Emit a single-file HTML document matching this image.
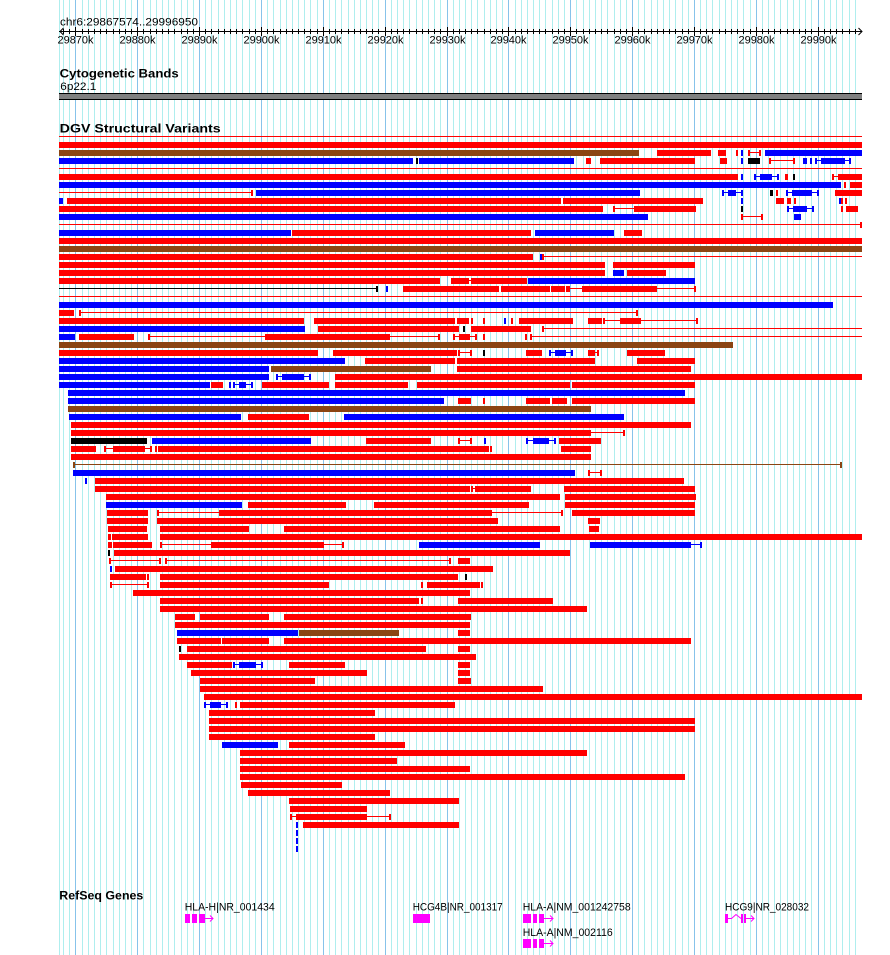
<!DOCTYPE html>
<html><head><meta charset="utf-8"><style>
html,body{margin:0;padding:0;background:#fff}
svg{display:block}
.r{fill:#f00}.b{fill:#00f}.n{fill:#8b4513}.k{fill:#000}.m{fill:#f0f}
text{font-family:"Liberation Sans",sans-serif;font-size:11px;fill:#000}
.t{font-weight:bold;font-size:12px}
</style></head><body>
<svg width="890" height="955" viewBox="0 0 890 955" xmlns="http://www.w3.org/2000/svg">
<defs>
<path id="mn" d="M63.5 0V955M69.5 0V955M82.5 0V955M88.5 0V955M94.5 0V955M100.5 0V955M106.5 0V955M113.5 0V955M119.5 0V955M125.5 0V955M131.5 0V955M143.5 0V955M150.5 0V955M156.5 0V955M162.5 0V955M168.5 0V955M174.5 0V955M181.5 0V955M187.5 0V955M193.5 0V955M205.5 0V955M211.5 0V955M218.5 0V955M224.5 0V955M230.5 0V955M236.5 0V955M242.5 0V955M249.5 0V955M255.5 0V955M267.5 0V955M273.5 0V955M280.5 0V955M286.5 0V955M292.5 0V955M298.5 0V955M304.5 0V955M310.5 0V955M317.5 0V955M329.5 0V955M335.5 0V955M341.5 0V955M348.5 0V955M354.5 0V955M360.5 0V955M366.5 0V955M372.5 0V955M378.5 0V955M391.5 0V955M397.5 0V955M403.5 0V955M409.5 0V955M416.5 0V955M422.5 0V955M428.5 0V955M434.5 0V955M440.5 0V955M453.5 0V955M459.5 0V955M465.5 0V955M471.5 0V955M477.5 0V955M484.5 0V955M490.5 0V955M496.5 0V955M502.5 0V955M515.5 0V955M521.5 0V955M527.5 0V955M533.5 0V955M539.5 0V955M545.5 0V955M552.5 0V955M558.5 0V955M564.5 0V955M576.5 0V955M583.5 0V955M589.5 0V955M595.5 0V955M601.5 0V955M607.5 0V955M614.5 0V955M620.5 0V955M626.5 0V955M638.5 0V955M644.5 0V955M651.5 0V955M657.5 0V955M663.5 0V955M669.5 0V955M675.5 0V955M682.5 0V955M688.5 0V955M700.5 0V955M706.5 0V955M712.5 0V955M719.5 0V955M725.5 0V955M731.5 0V955M737.5 0V955M743.5 0V955M750.5 0V955M762.5 0V955M768.5 0V955M774.5 0V955M780.5 0V955M787.5 0V955M793.5 0V955M799.5 0V955M805.5 0V955M811.5 0V955M824.5 0V955M830.5 0V955M836.5 0V955M842.5 0V955M849.5 0V955M855.5 0V955"/>
<path id="mj" d="M75.5 0V955M137.5 0V955M199.5 0V955M261.5 0V955M323.5 0V955M385.5 0V955M447.5 0V955M508.5 0V955M570.5 0V955M632.5 0V955M694.5 0V955M756.5 0V955M818.5 0V955"/>
<clipPath id="c1"><rect x="0" y="29" width="890" height="5"/></clipPath>
<clipPath id="c2"><rect x="0" y="27" width="890" height="9"/></clipPath>
</defs>
<rect x="0" y="0" width="890" height="955" fill="#fff"/>
<!-- grid -->
<path d="M59.5 0V955" stroke="#afeeee" stroke-width="1"/>
<use href="#mn" stroke="#afeeee" stroke-width="1"/>
<use href="#mj" stroke="#87c3ea" stroke-width="1"/>
<!-- ruler -->
<text x="60" y="25.5" textLength="138" lengthAdjust="spacingAndGlyphs">chr6:29867574..29996950</text>
<rect x="59" y="31" width="803" height="1" fill="#000"/>
<use href="#mn" stroke="#000" stroke-width="1" clip-path="url(#c1)"/>
<use href="#mj" stroke="#000" stroke-width="1" clip-path="url(#c2)"/>
<polyline points="63.5,28 60,31.5 63.5,35" fill="none" stroke="#000" stroke-width="1"/>
<polyline points="858.5,28 862,31.5 858.5,35" fill="none" stroke="#000" stroke-width="1"/>
<g text-anchor="middle">
<text x="75.5" y="43.5" textLength="36" lengthAdjust="spacingAndGlyphs">29870k</text>
<text x="137.5" y="43.5" textLength="36" lengthAdjust="spacingAndGlyphs">29880k</text>
<text x="199.5" y="43.5" textLength="36" lengthAdjust="spacingAndGlyphs">29890k</text>
<text x="261.5" y="43.5" textLength="36" lengthAdjust="spacingAndGlyphs">29900k</text>
<text x="323.5" y="43.5" textLength="36" lengthAdjust="spacingAndGlyphs">29910k</text>
<text x="385.5" y="43.5" textLength="36" lengthAdjust="spacingAndGlyphs">29920k</text>
<text x="447.5" y="43.5" textLength="36" lengthAdjust="spacingAndGlyphs">29930k</text>
<text x="508.5" y="43.5" textLength="36" lengthAdjust="spacingAndGlyphs">29940k</text>
<text x="570.5" y="43.5" textLength="36" lengthAdjust="spacingAndGlyphs">29950k</text>
<text x="632.5" y="43.5" textLength="36" lengthAdjust="spacingAndGlyphs">29960k</text>
<text x="694.5" y="43.5" textLength="36" lengthAdjust="spacingAndGlyphs">29970k</text>
<text x="756.5" y="43.5" textLength="36" lengthAdjust="spacingAndGlyphs">29980k</text>
<text x="818.5" y="43.5" textLength="36" lengthAdjust="spacingAndGlyphs">29990k</text>
</g>
<!-- cytoband -->
<text class="t" x="59.7" y="77.3" textLength="119" lengthAdjust="spacingAndGlyphs">Cytogenetic Bands</text>
<text x="60.3" y="90" textLength="36" lengthAdjust="spacingAndGlyphs">6p22.1</text>
<rect x="59" y="93" width="803" height="7" fill="#000"/>
<rect x="59" y="94" width="803" height="5" fill="#808080"/>
<!-- DGV -->
<text class="t" x="59.7" y="132.3" textLength="161" lengthAdjust="spacingAndGlyphs">DGV Structural Variants</text>

<g transform="translate(0,134)"><rect class="r" x="59" y="2" width="803" height="1"/></g>
<g transform="translate(0,142)"><rect class="r" x="59" width="803" height="6"/></g>
<g transform="translate(0,150)"><rect class="n" x="59" width="580" height="6"/><rect class="r" x="657" width="54" height="6"/><rect class="r" x="718" width="8" height="6"/><rect class="r" x="736" width="2" height="6"/><rect class="b" x="741" width="2" height="6"/><rect class="r" x="748" width="2" height="6"/><rect class="r" x="750" y="2" width="10" height="1"/><rect class="r" x="759" width="2" height="6"/><rect class="b" x="765" width="97" height="6"/></g>
<g transform="translate(0,158)"><rect class="b" x="59" width="354" height="6"/><rect class="k" x="416" width="2" height="6"/><rect class="b" x="419" width="155" height="6"/><rect class="r" x="586" width="5" height="6"/><rect class="r" x="600" width="95" height="6"/><rect class="r" x="720" width="7" height="6"/><rect class="b" x="741" width="2" height="6"/><rect class="k" x="748" width="12" height="6"/><rect class="r" x="769" width="2" height="6"/><rect class="r" x="769" y="2" width="26" height="1"/><rect class="r" x="793" width="2" height="6"/><rect class="b" x="803" width="4" height="6"/><rect class="b" x="810" width="2" height="6"/><rect class="b" x="815" width="2" height="6"/><rect class="b" x="815" y="2" width="36" height="1"/><rect class="b" x="821" width="24" height="6"/><rect class="b" x="849" width="2" height="6"/></g>
<g transform="translate(0,166)"><rect class="r" x="59" y="2" width="803" height="1"/></g>
<g transform="translate(0,174)"><rect class="r" x="59" width="679" height="6"/><rect class="b" x="741" width="2" height="6"/><rect class="b" x="754" width="2" height="6"/><rect class="b" x="754" y="2" width="25" height="1"/><rect class="b" x="760" width="12" height="6"/><rect class="b" x="777" width="2" height="6"/><rect class="r" x="785" width="3" height="6"/><rect class="k" x="793" width="2" height="6"/><rect class="r" x="832" width="2" height="6"/><rect class="r" x="832" y="2" width="6" height="1"/><rect class="r" x="838" width="24" height="6"/></g>
<g transform="translate(0,182)"><rect class="b" x="59" width="782" height="6"/><rect class="r" x="844" width="2" height="6"/><rect class="r" x="850" width="12" height="6"/></g>
<g transform="translate(0,190)"><rect class="r" x="59" y="2" width="192" height="1"/><rect class="r" x="251" width="2" height="6"/><rect class="b" x="256" width="384" height="6"/><rect class="b" x="722" width="2" height="6"/><rect class="b" x="722" y="2" width="21" height="1"/><rect class="b" x="728" width="8" height="6"/><rect class="b" x="741" width="2" height="6"/><rect class="k" x="770" width="3" height="6"/><rect class="r" x="776" width="2" height="6"/><rect class="b" x="786" width="2" height="6"/><rect class="b" x="786" y="2" width="33" height="1"/><rect class="b" x="792" width="20" height="6"/><rect class="b" x="817" width="2" height="6"/><rect class="r" x="835" width="27" height="6"/></g>
<g transform="translate(0,198)"><rect class="b" x="59" width="4" height="6"/><rect class="r" x="67" width="494" height="6"/><rect class="r" x="563" width="140" height="6"/><rect class="b" x="741" width="2" height="6"/><rect class="r" x="776" width="8" height="6"/><rect class="r" x="787" width="4" height="6"/><rect class="r" x="794" width="2" height="6"/><rect class="b" x="839" width="2" height="6"/><rect class="r" x="841" width="2" height="6"/><rect class="r" x="845" width="2" height="6"/></g>
<g transform="translate(0,206)"><rect class="r" x="59" width="544" height="6"/><rect class="r" x="613" width="2" height="6"/><rect class="r" x="613" y="2" width="21" height="1"/><rect class="r" x="634" width="62" height="6"/><rect class="k" x="741" width="2" height="6"/><rect class="b" x="787" width="2" height="6"/><rect class="b" x="787" y="2" width="27" height="1"/><rect class="b" x="793" width="14" height="6"/><rect class="b" x="812" width="2" height="6"/><rect class="r" x="841" width="2" height="6"/><rect class="r" x="846" width="12" height="6"/></g>
<g transform="translate(0,214)"><rect class="b" x="59" width="589" height="6"/><rect class="r" x="741" width="2" height="6"/><rect class="r" x="741" y="2" width="22" height="1"/><rect class="r" x="761" width="2" height="6"/><rect class="b" x="794" width="7" height="6"/></g>
<g transform="translate(0,222)"><rect class="r" x="59" y="2" width="803" height="1"/><rect class="r" x="860" width="2" height="6"/></g>
<g transform="translate(0,230)"><rect class="b" x="59" width="232" height="6"/><rect class="r" x="292" width="239" height="6"/><rect class="b" x="535" width="79" height="6"/><rect class="r" x="624" width="18" height="6"/></g>
<g transform="translate(0,238)"><rect class="r" x="59" width="803" height="6"/></g>
<g transform="translate(0,246)"><rect class="n" x="59" width="803" height="6"/></g>
<g transform="translate(0,254)"><rect class="r" x="59" width="474" height="6"/><rect class="b" x="540" width="2" height="6"/><rect class="r" x="542" width="2" height="6"/><rect class="r" x="544" y="2" width="318" height="1"/></g>
<g transform="translate(0,262)"><rect class="r" x="59" width="546" height="6"/><rect class="r" x="613" width="82" height="6"/></g>
<g transform="translate(0,270)"><rect class="r" x="59" width="546" height="6"/><rect class="b" x="613" width="11" height="6"/><rect class="r" x="627" width="39" height="6"/></g>
<g transform="translate(0,278)"><rect class="r" x="59" width="381" height="6"/><rect class="r" x="451" width="18" height="6"/><rect class="r" x="469" y="2" width="2" height="1"/><rect class="r" x="471" width="56" height="6"/><rect class="b" x="528" width="167" height="6"/></g>
<g transform="translate(0,286)"><rect class="k" x="59" y="2" width="317" height="1"/><rect class="k" x="376" width="2" height="6"/><rect class="b" x="386" width="2" height="6"/><rect class="r" x="403" width="96" height="6"/><rect class="r" x="501" width="49" height="6"/><rect class="r" x="551" width="14" height="6"/><rect class="r" x="566" width="4" height="6"/><rect class="r" x="570" y="2" width="12" height="1"/><rect class="r" x="582" width="75" height="6"/><rect class="r" x="657" y="2" width="38" height="1"/><rect class="r" x="694" width="2" height="6"/></g>
<g transform="translate(0,294)"><rect class="r" x="59" y="2" width="803" height="1"/></g>
<g transform="translate(0,302)"><rect class="b" x="59" width="774" height="6"/></g>
<g transform="translate(0,310)"><rect class="r" x="59" width="15" height="6"/><rect class="r" x="79" width="2" height="6"/><rect class="r" x="79" y="2" width="558" height="1"/><rect class="r" x="636" width="2" height="6"/></g>
<g transform="translate(0,318)"><rect class="r" x="59" width="245" height="6"/><rect class="r" x="314" width="141" height="6"/><rect class="r" x="457" width="12" height="6"/><rect class="r" x="471" width="2" height="6"/><rect class="r" x="483" width="2" height="6"/><rect class="b" x="504" width="2" height="6"/><rect class="r" x="511" width="2" height="6"/><rect class="r" x="519" width="54" height="6"/><rect class="r" x="588" width="14" height="6"/><rect class="r" x="603" width="2" height="6"/><rect class="r" x="603" y="2" width="17" height="1"/><rect class="r" x="620" width="21" height="6"/><rect class="r" x="641" y="2" width="56" height="1"/><rect class="r" x="696" width="2" height="6"/></g>
<g transform="translate(0,326)"><rect class="b" x="59" width="246" height="6"/><rect class="r" x="318" width="141" height="6"/><rect class="k" x="463" width="2" height="6"/><rect class="r" x="471" width="60" height="6"/><rect class="r" x="542" width="2" height="6"/><rect class="r" x="542" y="2" width="320" height="1"/></g>
<g transform="translate(0,334)"><rect class="b" x="59" width="16" height="6"/><rect class="r" x="79" width="55" height="6"/><rect class="r" x="148" width="2" height="6"/><rect class="r" x="148" y="2" width="117" height="1"/><rect class="r" x="265" width="125" height="6"/><rect class="r" x="390" y="2" width="50" height="1"/><rect class="r" x="438" width="2" height="6"/><rect class="r" x="453" width="2" height="6"/><rect class="r" x="453" y="2" width="6" height="1"/><rect class="r" x="459" width="11" height="6"/><rect class="r" x="470" y="2" width="5" height="1"/><rect class="r" x="475" width="2" height="6"/><rect class="r" x="483" width="2" height="6"/><rect class="r" x="525" width="2" height="6"/><rect class="r" x="530" width="2" height="6"/><rect class="r" x="530" y="2" width="332" height="1"/></g>
<g transform="translate(0,342)"><rect class="n" x="59" width="674" height="6"/></g>
<g transform="translate(0,350)"><rect class="r" x="59" width="259" height="6"/><rect class="r" x="333" width="124" height="6"/><rect class="r" x="458" width="2" height="6"/><rect class="r" x="458" y="2" width="12" height="1"/><rect class="r" x="470" width="2" height="6"/><rect class="k" x="483" width="2" height="6"/><rect class="r" x="526" width="16" height="6"/><rect class="b" x="549" width="2" height="6"/><rect class="b" x="549" y="2" width="24" height="1"/><rect class="b" x="555" width="11" height="6"/><rect class="b" x="571" width="2" height="6"/><rect class="r" x="588" width="7" height="6"/><rect class="r" x="595" y="2" width="3" height="1"/><rect class="r" x="597" width="2" height="6"/><rect class="r" x="627" width="38" height="6"/></g>
<g transform="translate(0,358)"><rect class="b" x="59" width="286" height="6"/><rect class="r" x="365" width="90" height="6"/><rect class="r" x="457" width="138" height="6"/><rect class="r" x="637" width="58" height="6"/></g>
<g transform="translate(0,366)"><rect class="b" x="59" width="210" height="6"/><rect class="n" x="271" width="160" height="6"/><rect class="r" x="457" width="234" height="6"/></g>
<g transform="translate(0,374)"><rect class="b" x="59" width="210" height="6"/><rect class="b" x="276" width="2" height="6"/><rect class="b" x="276" y="2" width="35" height="1"/><rect class="b" x="282" width="22" height="6"/><rect class="b" x="309" width="2" height="6"/><rect class="r" x="335" width="527" height="6"/></g>
<g transform="translate(0,382)"><rect class="b" x="59" width="151" height="6"/><rect class="r" x="211" width="12" height="6"/><rect class="b" x="229" width="2" height="6"/><rect class="b" x="233" width="2" height="6"/><rect class="b" x="233" y="2" width="20" height="1"/><rect class="b" x="239" width="7" height="6"/><rect class="b" x="251" width="2" height="6"/><rect class="r" x="262" width="67" height="6"/><rect class="r" x="335" width="73" height="6"/><rect class="r" x="417" width="153" height="6"/><rect class="r" x="572" width="123" height="6"/></g>
<g transform="translate(0,390)"><rect class="b" x="68" width="617" height="6"/></g>
<g transform="translate(0,398)"><rect class="b" x="68" width="376" height="6"/><rect class="r" x="458" width="13" height="6"/><rect class="r" x="483" width="2" height="6"/><rect class="r" x="526" width="24" height="6"/><rect class="r" x="552" width="15" height="6"/><rect class="r" x="572" width="123" height="6"/></g>
<g transform="translate(0,406)"><rect class="n" x="68" width="523" height="6"/></g>
<g transform="translate(0,414)"><rect class="b" x="69" width="172" height="6"/><rect class="r" x="248" width="61" height="6"/><rect class="b" x="344" width="280" height="6"/></g>
<g transform="translate(0,422)"><rect class="r" x="71" width="620" height="6"/></g>
<g transform="translate(0,430)"><rect class="r" x="71" width="520" height="6"/><rect class="r" x="591" y="2" width="34" height="1"/><rect class="r" x="623" width="2" height="6"/></g>
<g transform="translate(0,438)"><rect class="k" x="71" width="76" height="6"/><rect class="b" x="152" width="159" height="6"/><rect class="r" x="366" width="65" height="6"/><rect class="r" x="458" width="2" height="6"/><rect class="r" x="458" y="2" width="12" height="1"/><rect class="r" x="470" width="2" height="6"/><rect class="b" x="484" width="2" height="6"/><rect class="b" x="526" width="2" height="6"/><rect class="b" x="526" y="2" width="30" height="1"/><rect class="b" x="533" width="16" height="6"/><rect class="b" x="554" width="2" height="6"/><rect class="r" x="559" width="42" height="6"/></g>
<g transform="translate(0,446)"><rect class="r" x="71" width="25" height="6"/><rect class="r" x="104" width="2" height="6"/><rect class="r" x="104" y="2" width="9" height="1"/><rect class="r" x="113" width="32" height="6"/><rect class="r" x="145" y="2" width="7" height="1"/><rect class="r" x="150" width="2" height="6"/><rect class="r" x="155" width="2" height="6"/><rect class="r" x="158" width="331" height="6"/><rect class="r" x="490" width="2" height="6"/><rect class="r" x="561" width="30" height="6"/></g>
<g transform="translate(0,454)"><rect class="r" x="71" width="520" height="6"/></g>
<g transform="translate(0,462)"><rect class="n" x="73" width="2" height="6"/><rect class="n" x="75" y="2" width="767" height="1"/><rect class="n" x="840" width="2" height="6"/></g>
<g transform="translate(0,470)"><rect class="b" x="73" width="502" height="6"/><rect class="r" x="588" width="2" height="6"/><rect class="r" x="588" y="2" width="14" height="1"/><rect class="r" x="600" width="2" height="6"/></g>
<g transform="translate(0,478)"><rect class="b" x="85" width="2" height="6"/><rect class="r" x="95" width="589" height="6"/></g>
<g transform="translate(0,486)"><rect class="r" x="95" width="375" height="6"/><rect class="r" x="471" width="2" height="6"/><rect class="r" x="471" y="2" width="4" height="1"/><rect class="r" x="475" width="56" height="6"/><rect class="r" x="564" width="131" height="6"/></g>
<g transform="translate(0,494)"><rect class="r" x="106" width="454" height="6"/><rect class="r" x="565" width="131" height="6"/></g>
<g transform="translate(0,502)"><rect class="b" x="106" width="136" height="6"/><rect class="r" x="248" width="98" height="6"/><rect class="r" x="374" width="155" height="6"/><rect class="r" x="565" width="130" height="6"/></g>
<g transform="translate(0,510)"><rect class="r" x="107" width="41" height="6"/><rect class="r" x="157" width="2" height="6"/><rect class="r" x="157" y="2" width="62" height="1"/><rect class="r" x="219" width="273" height="6"/><rect class="r" x="492" y="2" width="71" height="1"/><rect class="r" x="561" width="2" height="6"/><rect class="r" x="572" width="123" height="6"/></g>
<g transform="translate(0,518)"><rect class="r" x="107" width="41" height="6"/><rect class="r" x="157" width="341" height="6"/><rect class="r" x="588" width="12" height="6"/></g>
<g transform="translate(0,526)"><rect class="r" x="108" width="39" height="6"/><rect class="r" x="160" width="89" height="6"/><rect class="r" x="284" width="276" height="6"/><rect class="r" x="589" width="10" height="6"/></g>
<g transform="translate(0,534)"><rect class="r" x="108" width="3" height="6"/><rect class="r" x="112" width="36" height="6"/><rect class="r" x="160" width="702" height="6"/></g>
<g transform="translate(0,542)"><rect class="r" x="108" width="4" height="6"/><rect class="r" x="113" width="39" height="6"/><rect class="r" x="160" width="2" height="6"/><rect class="r" x="160" y="2" width="51" height="1"/><rect class="r" x="211" width="113" height="6"/><rect class="r" x="324" y="2" width="20" height="1"/><rect class="r" x="342" width="2" height="6"/><rect class="b" x="419" width="121" height="6"/><rect class="b" x="590" width="101" height="6"/><rect class="b" x="691" y="2" width="11" height="1"/><rect class="b" x="700" width="2" height="6"/></g>
<g transform="translate(0,550)"><rect class="k" x="108" width="2" height="6"/><rect class="r" x="114" width="456" height="6"/></g>
<g transform="translate(0,558)"><rect class="r" x="109" width="2" height="6"/><rect class="r" x="109" y="2" width="52" height="1"/><rect class="r" x="159" width="2" height="6"/><rect class="r" x="165" width="2" height="6"/><rect class="r" x="165" y="2" width="286" height="1"/><rect class="r" x="449" width="2" height="6"/><rect class="r" x="458" width="12" height="6"/></g>
<g transform="translate(0,566)"><rect class="b" x="110" width="2" height="6"/><rect class="r" x="115" width="378" height="6"/></g>
<g transform="translate(0,574)"><rect class="r" x="110" width="36" height="6"/><rect class="r" x="147" width="2" height="6"/><rect class="r" x="160" width="298" height="6"/><rect class="k" x="465" width="2" height="6"/></g>
<g transform="translate(0,582)"><rect class="r" x="110" width="2" height="6"/><rect class="r" x="110" y="2" width="39" height="1"/><rect class="r" x="147" width="2" height="6"/><rect class="r" x="160" width="169" height="6"/><rect class="r" x="421" width="2" height="6"/><rect class="r" x="427" width="53" height="6"/><rect class="r" x="481" width="2" height="6"/></g>
<g transform="translate(0,590)"><rect class="r" x="133" width="337" height="6"/></g>
<g transform="translate(0,598)"><rect class="r" x="160" width="259" height="6"/><rect class="r" x="421" width="2" height="6"/><rect class="r" x="458" width="95" height="6"/></g>
<g transform="translate(0,606)"><rect class="r" x="160" width="427" height="6"/></g>
<g transform="translate(0,614)"><rect class="r" x="175" width="20" height="6"/><rect class="r" x="200" width="69" height="6"/><rect class="r" x="284" width="187" height="6"/></g>
<g transform="translate(0,622)"><rect class="r" x="175" width="295" height="6"/></g>
<g transform="translate(0,630)"><rect class="b" x="177" width="121" height="6"/><rect class="n" x="299" width="100" height="6"/><rect class="r" x="458" width="12" height="6"/></g>
<g transform="translate(0,638)"><rect class="r" x="177" width="44" height="6"/><rect class="r" x="222" width="47" height="6"/><rect class="r" x="284" width="407" height="6"/></g>
<g transform="translate(0,646)"><rect class="k" x="179" width="2" height="6"/><rect class="r" x="187" width="239" height="6"/><rect class="r" x="458" width="12" height="6"/></g>
<g transform="translate(0,654)"><rect class="r" x="179" width="297" height="6"/></g>
<g transform="translate(0,662)"><rect class="r" x="187" width="45" height="6"/><rect class="b" x="233" width="2" height="6"/><rect class="b" x="233" y="2" width="30" height="1"/><rect class="b" x="239" width="17" height="6"/><rect class="b" x="261" width="2" height="6"/><rect class="r" x="289" width="56" height="6"/><rect class="r" x="458" width="12" height="6"/></g>
<g transform="translate(0,670)"><rect class="r" x="191" width="176" height="6"/><rect class="r" x="458" width="12" height="6"/></g>
<g transform="translate(0,678)"><rect class="r" x="200" width="115" height="6"/><rect class="r" x="458" width="13" height="6"/></g>
<g transform="translate(0,686)"><rect class="r" x="200" width="343" height="6"/></g>
<g transform="translate(0,694)"><rect class="r" x="204" width="658" height="6"/></g>
<g transform="translate(0,702)"><rect class="b" x="204" width="2" height="6"/><rect class="b" x="204" y="2" width="24" height="1"/><rect class="b" x="210" width="11" height="6"/><rect class="b" x="226" width="2" height="6"/><rect class="r" x="235" width="2" height="6"/><rect class="r" x="240" width="215" height="6"/></g>
<g transform="translate(0,710)"><rect class="r" x="209" width="166" height="6"/></g>
<g transform="translate(0,718)"><rect class="r" x="209" width="486" height="6"/></g>
<g transform="translate(0,726)"><rect class="r" x="209" width="486" height="6"/></g>
<g transform="translate(0,734)"><rect class="r" x="209" width="166" height="6"/></g>
<g transform="translate(0,742)"><rect class="b" x="222" width="56" height="6"/><rect class="r" x="289" width="116" height="6"/></g>
<g transform="translate(0,750)"><rect class="r" x="240" width="347" height="6"/></g>
<g transform="translate(0,758)"><rect class="r" x="240" width="157" height="6"/></g>
<g transform="translate(0,766)"><rect class="r" x="240" width="230" height="6"/></g>
<g transform="translate(0,774)"><rect class="r" x="240" width="445" height="6"/></g>
<g transform="translate(0,782)"><rect class="r" x="241" width="101" height="6"/></g>
<g transform="translate(0,790)"><rect class="r" x="248" width="142" height="6"/></g>
<g transform="translate(0,798)"><rect class="r" x="289" width="170" height="6"/></g>
<g transform="translate(0,806)"><rect class="r" x="290" width="77" height="6"/></g>
<g transform="translate(0,814)"><rect class="r" x="290" width="2" height="6"/><rect class="r" x="290" y="2" width="6" height="1"/><rect class="r" x="296" width="71" height="6"/><rect class="r" x="367" y="2" width="24" height="1"/><rect class="r" x="389" width="2" height="6"/></g>
<g transform="translate(0,822)"><rect class="b" x="296" width="2" height="6"/><rect class="r" x="303" width="156" height="6"/></g>
<rect class="b" x="296" y="830" width="2" height="6"/>
<rect class="b" x="296" y="838" width="2" height="6"/>
<rect class="b" x="296" y="846" width="2" height="6"/>

<!-- RefSeq Genes -->
<text class="t" x="59.3" y="899.3" textLength="84" lengthAdjust="spacingAndGlyphs">RefSeq Genes</text>
<text x="184.7" y="910.7" textLength="90" lengthAdjust="spacingAndGlyphs">HLA-H|NR_001434</text>
<rect class="m" x="185" y="914" width="5" height="9"/><rect class="m" x="192" y="914" width="5" height="9"/><rect class="m" x="199" y="914" width="6" height="9"/>
<rect class="m" x="205" y="918" width="8" height="1"/>
<polyline points="210,915.5 213,918.5 210,921.5" fill="none" stroke="#f0f" stroke-width="1"/>

<text x="412.7" y="910.7" textLength="90" lengthAdjust="spacingAndGlyphs">HCG4B|NR_001317</text>
<rect class="m" x="413" y="914" width="17" height="9"/>

<text x="522.7" y="910.7" textLength="108" lengthAdjust="spacingAndGlyphs">HLA-A|NM_001242758</text>
<rect class="m" x="523" y="914" width="8" height="9"/><rect class="m" x="533" y="914" width="4" height="9"/><rect class="m" x="539" y="914" width="5" height="9"/>
<rect class="m" x="544" y="918" width="9" height="1"/>
<polyline points="550,915.5 553,918.5 550,921.5" fill="none" stroke="#f0f" stroke-width="1"/>

<text x="522.7" y="936" textLength="90" lengthAdjust="spacingAndGlyphs">HLA-A|NM_002116</text>
<rect class="m" x="523" y="939" width="8" height="9"/><rect class="m" x="533" y="939" width="4" height="9"/><rect class="m" x="539" y="939" width="5" height="9"/>
<rect class="m" x="544" y="943" width="9" height="1"/>
<polyline points="550,940.5 553,943.5 550,946.5" fill="none" stroke="#f0f" stroke-width="1"/>

<text x="725" y="910.7" textLength="84" lengthAdjust="spacingAndGlyphs">HCG9|NR_028032</text>
<rect class="m" x="725" y="914" width="3" height="9"/>
<rect class="m" x="728" y="918" width="4" height="1"/>
<polyline points="731.5,918.5 736,914.5 741,918.5" fill="none" stroke="#f0f" stroke-width="1"/>
<rect class="m" x="741" y="914" width="2" height="9"/><rect class="m" x="744" y="914" width="2" height="9"/>
<rect class="m" x="746" y="918" width="8" height="1"/>
<polyline points="751,915.5 754,918.5 751,921.5" fill="none" stroke="#f0f" stroke-width="1"/>
</svg>
</body></html>
